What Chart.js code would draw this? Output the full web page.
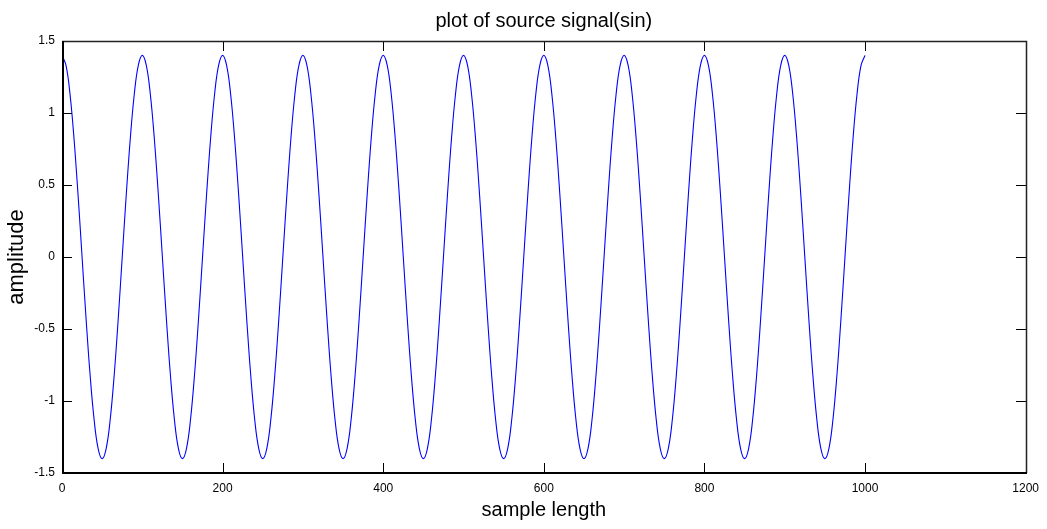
<!DOCTYPE html>
<html>
<head>
<meta charset="utf-8">
<script src="https://cdn.jsdelivr.net/npm/chart.js@4/dist/chart.umd.min.js"></script>
<style>
  html, body { margin: 0; padding: 0; background: #ffffff; }
  canvas { display: block; }
</style>
</head>
<body>
<canvas id="c" width="1047" height="529"></canvas>
<script>
// sample index (x values)
const samples = [
  0,5,10,15,20,25,30,35,40,45,50,55,60,65,70,75,80,85,90,95,
  100,105,110,115,120,125,130,135,140,145,150,155,160,165,170,175,180,185,190,195,
  200,205,210,215,220,225,230,235,240,245,250,255,260,265,270,275,280,285,290,295,
  300,305,310,315,320,325,330,335,340,345,350,355,360,365,370,375,380,385,390,395,
  400,405,410,415,420,425,430,435,440,445,450,455,460,465,470,475,480,485,490,495,
  500,505,510,515,520,525,530,535,540,545,550,555,560,565,570,575,580,585,590,595,
  600,605,610,615,620,625,630,635,640,645,650,655,660,665,670,675,680,685,690,695,
  700,705,710,715,720,725,730,735,740,745,750,755,760,765,770,775,780,785,790,795,
  800,805,810,815,820,825,830,835,840,845,850,855,860,865,870,875,880,885,890,895,
  900,905,910,915,920,925,930,935,940,945,950,955,960,965,970,975,980,985,990,995,
  1000
];
// amplitude
const amplitude = [
  1.4,1.33,1.13,0.82,0.43,0,-0.43,-0.82,-1.13,-1.33,-1.4,-1.33,-1.13,-0.82,-0.43,0,0.43,0.82,1.13,1.33,
  1.4,1.33,1.13,0.82,0.43,0,-0.43,-0.82,-1.13,-1.33,-1.4,-1.33,-1.13,-0.82,-0.43,0,0.43,0.82,1.13,1.33,
  1.4,1.33,1.13,0.82,0.43,0,-0.43,-0.82,-1.13,-1.33,-1.4,-1.33,-1.13,-0.82,-0.43,0,0.43,0.82,1.13,1.33,
  1.4,1.33,1.13,0.82,0.43,0,-0.43,-0.82,-1.13,-1.33,-1.4,-1.33,-1.13,-0.82,-0.43,0,0.43,0.82,1.13,1.33,
  1.4,1.33,1.13,0.82,0.43,0,-0.43,-0.82,-1.13,-1.33,-1.4,-1.33,-1.13,-0.82,-0.43,0,0.43,0.82,1.13,1.33,
  1.4,1.33,1.13,0.82,0.43,0,-0.43,-0.82,-1.13,-1.33,-1.4,-1.33,-1.13,-0.82,-0.43,0,0.43,0.82,1.13,1.33,
  1.4,1.33,1.13,0.82,0.43,0,-0.43,-0.82,-1.13,-1.33,-1.4,-1.33,-1.13,-0.82,-0.43,0,0.43,0.82,1.13,1.33,
  1.4,1.33,1.13,0.82,0.43,0,-0.43,-0.82,-1.13,-1.33,-1.4,-1.33,-1.13,-0.82,-0.43,0,0.43,0.82,1.13,1.33,
  1.4,1.33,1.13,0.82,0.43,0,-0.43,-0.82,-1.13,-1.33,-1.4,-1.33,-1.13,-0.82,-0.43,0,0.43,0.82,1.13,1.33,
  1.4,1.33,1.13,0.82,0.43,0,-0.43,-0.82,-1.13,-1.33,-1.4,-1.33,-1.13,-0.82,-0.43,0,0.43,0.82,1.13,1.33,
  1.4
];
const xTicks = [0, 200, 400, 600, 800, 1000, 1200];
const yTicks = [-1.5, -1, -0.5, 0, 0.5, 1, 1.5];
const titleText = 'plot of source signal(sin)';
const xTitle = 'sample length';
const yTitle = 'amplitude';

const FONT = "'Liberation Sans', Arial, Helvetica, sans-serif";

const frameTicks = {
  id: 'frameTicks',
  afterDatasetsDraw(chart) {
    const ctx = chart.ctx;
    const a = chart.chartArea;
    const xs = chart.scales.x, ys = chart.scales.y;
    const L = Math.round(a.left), R = Math.round(a.right);
    const T = Math.round(a.top), B = Math.round(a.bottom);
    const len = 10;
    ctx.save();
    // thin ticks
    ctx.strokeStyle = '#000';
    ctx.lineWidth = 1;
    ctx.beginPath();
    xs.ticks.forEach(t => {
      const px = Math.round(xs.getPixelForValue(t.value)) + 0.5;
      ctx.moveTo(px, B); ctx.lineTo(px, B - len);
      ctx.moveTo(px, T); ctx.lineTo(px, T + len);
    });
    ys.ticks.forEach(t => {
      const py = Math.round(ys.getPixelForValue(t.value)) + 0.5;
      ctx.moveTo(L, py); ctx.lineTo(L + len, py);
      ctx.moveTo(R, py); ctx.lineTo(R - len, py);
    });
    ctx.stroke();
    // top & right frame
    ctx.strokeStyle = '#222';
    ctx.lineWidth = 1.5;
    ctx.beginPath();
    ctx.moveTo(L, T + 0.5); ctx.lineTo(R + 0.5, T + 0.5);
    ctx.lineTo(R + 0.5, B);
    ctx.stroke();
    // left & bottom frame
    ctx.strokeStyle = '#000';
    ctx.lineWidth = 2;
    ctx.beginPath();
    ctx.moveTo(L + 1, T); ctx.lineTo(L + 1, B);
    ctx.moveTo(L, B); ctx.lineTo(R + 1, B);
    ctx.stroke();
    ctx.restore();
  }
};

new Chart(document.getElementById('c'), {
  type: 'line',
  data: {
    labels: samples,
    datasets: [{
      data: amplitude,
      borderColor: '#0000ff',
      borderWidth: 1.1,
      pointRadius: 0,
      tension: 0.4,
      fill: false
    }]
  },
  options: {
    responsive: false,
    devicePixelRatio: 1,
    animation: false,
    layout: { padding: { left: 0, right: 19, top: 0, bottom: 0 } },
    plugins: {
      legend: { display: false },
      tooltip: { enabled: false },
      title: {
        display: true,
        text: titleText,
        fullSize: false,
        color: '#000',
        font: { family: FONT, size: 20, weight: 'normal', lineHeight: 1.2 },
        padding: { top: 9, bottom: 8 }
      }
    },
    scales: {
      x: {
        type: 'linear',
        min: 0, max: 1200,
        afterFit(s) { s.height = 56; },
        afterBuildTicks(s) { s.ticks = xTicks.map(v => ({ value: v })); },
        grid: { display: false, drawTicks: false },
        border: { display: false },
        ticks: {
          color: '#000',
          padding: 8,
          maxRotation: 0,
          font: { family: FONT, size: 12 },
          callback: v => String(v)
        },
        title: {
          display: true,
          text: xTitle,
          color: '#000',
          font: { family: FONT, size: 20, lineHeight: 1.2 },
          padding: { top: 0, bottom: 7 }
        }
      },
      y: {
        type: 'linear',
        min: -1.5, max: 1.5,
        afterFit(s) { s.width = 62; },
        afterBuildTicks(s) { s.ticks = yTicks.map(v => ({ value: v })); },
        grid: { display: false, drawTicks: false },
        border: { display: false },
        ticks: {
          color: '#000',
          padding: 7,
          font: { family: FONT, size: 12 },
          callback: v => String(v)
        },
        title: {
          display: true,
          text: yTitle,
          color: '#000',
          font: { family: FONT, size: 22, lineHeight: 1.2 },
          padding: { top: 4, bottom: 0 }
        }
      }
    }
  },
  plugins: [frameTicks]
});
</script>
</body>
</html>
